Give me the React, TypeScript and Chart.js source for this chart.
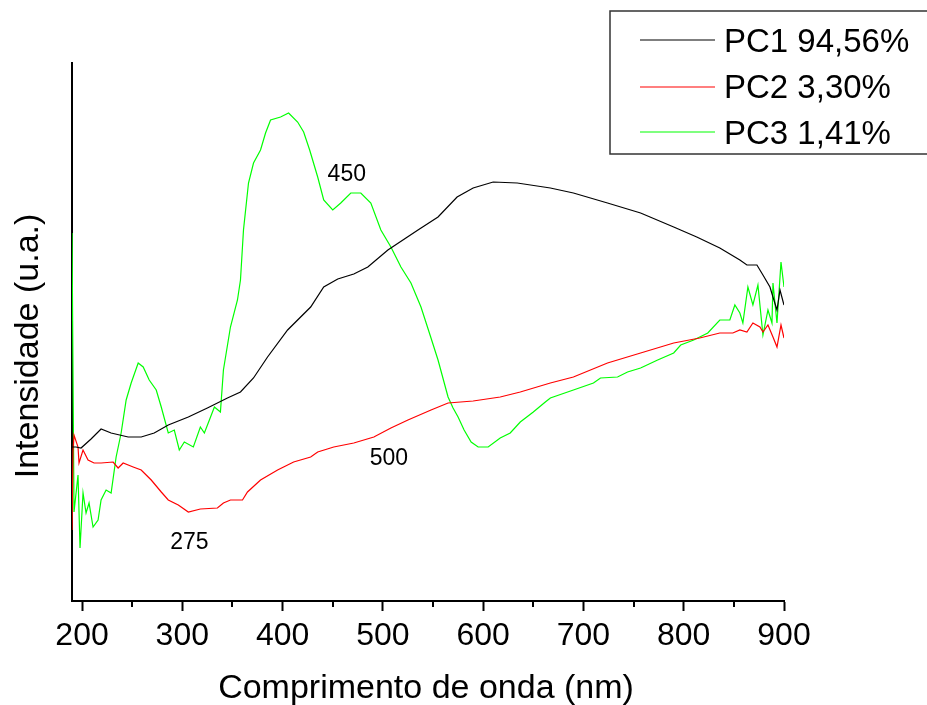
import React, { useEffect, useRef } from "react";
import { Chart, registerables } from "chart.js";

Chart.register(...registerables);

const FONT = "'Liberation Sans', Arial, Helvetica, sans-serif";

const xTickValues = [200, 300, 400, 500, 600, 700, 800, 900];
const xMinorTickValues = [250, 350, 450, 550, 650, 750, 850];

const seriesLabels = ["PC1 94,56%", "PC2 3,30%", "PC3 1,41%"];
const seriesColors = ["#000000", "#ff0000", "#00ff00"];

const pc1Wavelength = [190, 194, 199, 209, 219, 229, 246, 259, 272, 286, 306, 325, 345, 358, 371, 385, 405, 428, 441, 455, 471, 485, 505, 535, 555, 574, 590, 610, 634, 667, 690, 724, 757, 790, 813, 836, 856, 863, 873, 879, 886, 889, 893, 896, 900];
const pc1Intensity = [154, 154, 153, 162, 172, 168, 164, 164, 168, 176, 184, 193, 203, 209, 223, 244, 271, 294, 314, 322, 327, 334, 351, 371, 384, 404, 413, 419, 418, 413, 408, 398, 388, 374, 364, 353, 341, 336, 336, 326, 314, 304, 291, 311, 296];

const pc2Wavelength = [190, 191, 192, 196, 197, 201, 206, 212, 219, 231, 236, 241, 251, 259, 269, 279, 286, 296, 306, 318, 335, 341, 348, 360, 365, 378, 395, 411, 428, 435, 451, 471, 491, 508, 525, 548, 565, 590, 617, 637, 667, 690, 724, 757, 790, 816, 836, 849, 856, 863, 869, 876, 879, 884, 889, 893, 897, 900];
const pc2Intensity = [71, 150, 166, 154, 138, 151, 141, 138, 138, 139, 133, 138, 134, 131, 121, 109, 101, 96, 89, 92, 93, 98, 101, 101, 109, 121, 131, 139, 144, 149, 154, 158, 164, 173, 181, 191, 198, 200, 204, 209, 218, 224, 238, 248, 258, 263, 268, 268, 271, 269, 278, 274, 269, 276, 264, 254, 276, 263];

const pc3Wavelength = [190, 192, 196, 198, 201, 204, 207, 211, 216, 219, 224, 229, 234, 239, 244, 249, 256, 261, 267, 274, 279, 286, 292, 297, 302, 311, 318, 322, 327, 332, 338, 341, 348, 355, 358, 361, 366, 371, 378, 383, 388, 398, 406, 415, 421, 427, 435, 441, 450, 458, 468, 478, 488, 498, 508, 518, 528, 538, 548, 555, 565, 570, 575, 581, 588, 595, 605, 617, 627, 637, 650, 662, 667, 690, 710, 717, 734, 744, 757, 774, 790, 797, 810, 824, 836, 846, 851, 856, 859, 864, 869, 874, 879, 884, 888, 889, 893, 897, 900];
const pc3Intensity = [368, 89, 126, 53, 108, 88, 98, 74, 81, 101, 111, 108, 144, 168, 201, 218, 238, 234, 221, 211, 194, 168, 171, 151, 159, 154, 174, 168, 181, 194, 189, 231, 274, 301, 321, 371, 418, 438, 451, 468, 481, 484, 488, 479, 469, 451, 424, 401, 391, 398, 408, 408, 398, 371, 354, 334, 318, 294, 263, 241, 204, 193, 184, 171, 159, 154, 154, 163, 168, 179, 189, 199, 203, 211, 218, 223, 224, 229, 233, 241, 248, 256, 261, 268, 281, 281, 296, 288, 278, 314, 296, 316, 266, 291, 278, 318, 278, 339, 314];

const annotationLabels = ["450", "500", "275"];
const annotationX = [464, 506, 307];
const annotationY = [420, 136, 52];

const xTitle = "Comprimento de onda (nm)";
const yTitle = "Intensidade (u.a.)";

const toPoints = (xs: number[], ys: number[]) => xs.map((x, i) => ({ x, y: ys[i] }));

const extrasPlugin = {
  id: "extras",
  afterDraw(chart: any) {
    const ctx = chart.ctx as CanvasRenderingContext2D;
    const xs = chart.scales.x;
    const ys = chart.scales.y;
    const area = chart.chartArea;
    ctx.save();
    // minor ticks
    ctx.strokeStyle = "#000";
    ctx.lineWidth = 2;
    xMinorTickValues.forEach((v) => {
      const px = Math.round(xs.getPixelForValue(v));
      ctx.beginPath();
      ctx.moveTo(px, area.bottom);
      ctx.lineTo(px, area.bottom + 6);
      ctx.stroke();
    });
    // annotations
    ctx.fillStyle = "#000";
    ctx.font = `23px ${FONT}`;
    ctx.textAlign = "center";
    ctx.textBaseline = "alphabetic";
    annotationLabels.forEach((t, i) => {
      ctx.fillText(t, xs.getPixelForValue(annotationX[i]), ys.getPixelForValue(annotationY[i]));
    });
    // axis titles
    ctx.font = `34px ${FONT}`;
    ctx.fillText(xTitle, (area.left + area.right) / 2 - 2, 698);
    ctx.save();
    ctx.translate(38, 346);
    ctx.rotate(-Math.PI / 2);
    ctx.fillText(yTitle, 0, 0);
    ctx.restore();
    // legend
    ctx.font = `33px ${FONT}`;
    ctx.fillStyle = "#fff";
    ctx.fillRect(610, 11, 330, 143);
    ctx.strokeStyle = "#333";
    ctx.lineWidth = 1.5;
    ctx.strokeRect(610, 11, 330, 143);
    const rowLineY = [40, 87, 132];
    const rowTextY = [52, 98, 144];
    ctx.textAlign = "left";
    seriesLabels.forEach((label, i) => {
      ctx.strokeStyle = seriesColors[i];
      ctx.lineWidth = 1.2;
      ctx.beginPath();
      ctx.moveTo(640, rowLineY[i]);
      ctx.lineTo(715, rowLineY[i]);
      ctx.stroke();
      ctx.fillStyle = "#000";
      ctx.fillText(label, 724, rowTextY[i]);
    });
    ctx.restore();
  },
};

export default function App() {
  const canvasRef = useRef<HTMLCanvasElement | null>(null);

  useEffect(() => {
    if (!canvasRef.current) return;
    const chart = new Chart(canvasRef.current, {
      type: "line",
      data: {
        datasets: [
          { label: seriesLabels[0], data: toPoints(pc1Wavelength, pc1Intensity), borderColor: seriesColors[0] },
          { label: seriesLabels[1], data: toPoints(pc2Wavelength, pc2Intensity), borderColor: seriesColors[1] },
          { label: seriesLabels[2], data: toPoints(pc3Wavelength, pc3Intensity), borderColor: seriesColors[2] },
        ].map((d) => ({ ...d, borderWidth: 1.2, pointRadius: 0, tension: 0, fill: false })),
      },
      options: {
        responsive: false,
        devicePixelRatio: 1,
        animation: false,
        layout: { padding: { top: 63, right: 143, bottom: 0, left: 0 } },
        plugins: { legend: { display: false }, tooltip: { enabled: false } },
        scales: {
          x: {
            type: "linear",
            min: 190,
            max: 900,
            afterBuildTicks: (s: any) => {
              s.ticks = xTickValues.map((v) => ({ value: v }));
            },
            afterFit: (s: any) => {
              s.height = 104;
            },
            ticks: {
              font: { size: 32, family: FONT },
              color: "#000",
              padding: 6,
              maxRotation: 0,
              autoSkip: false,
              callback: (v: any) => String(v),
            },
            grid: { display: true, drawOnChartArea: false, drawTicks: true, tickLength: 10, tickColor: "#000", tickWidth: 2 },
            border: { display: true, color: "#000", width: 2 },
          },
          y: {
            type: "linear",
            min: 0,
            max: 538,
            afterFit: (s: any) => {
              s.width = 72;
            },
            ticks: { display: false },
            grid: { display: false },
            border: { display: true, color: "#000", width: 2 },
          },
        },
      },
      plugins: [extrasPlugin],
    });
    return () => chart.destroy();
  }, []);

  return (
    <div style={{ position: "absolute", left: 0, top: 0, width: 927, height: 705, background: "#fff" }}>
      <canvas ref={canvasRef} width={927} height={705} style={{ display: "block" }} />
    </div>
  );
}
